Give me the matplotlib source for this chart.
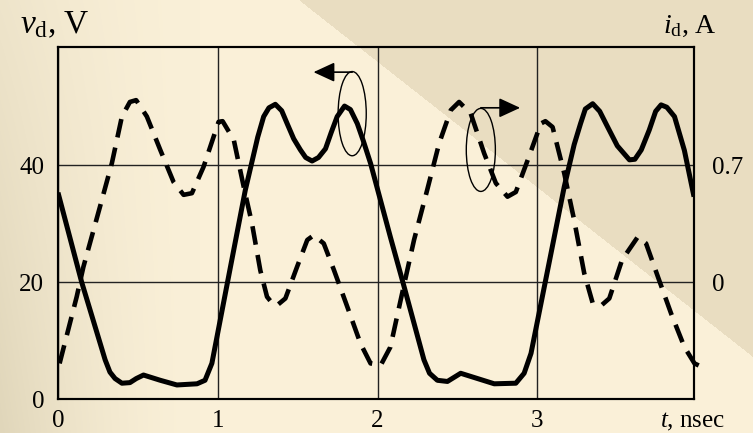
import numpy as np
import matplotlib
matplotlib.use("Agg")
import matplotlib.pyplot as plt
from matplotlib.patches import Ellipse

plt.rcParams['font.family'] = ['Liberation Serif', 'DejaVu Serif']
plt.rcParams['mathtext.fontset'] = 'custom'
plt.rcParams['mathtext.rm'] = 'Liberation Serif'
plt.rcParams['mathtext.it'] = 'Liberation Serif:italic'
plt.rcParams['lines.scale_dashes'] = False

# ---- data ----
# solid: diode voltage v_d (V), left axis
t_v = [0.0, 0.148, 0.295, 0.325, 0.357, 0.40, 0.45, 0.49, 0.535, 0.64, 0.744, 0.87, 0.92, 0.963,
       1.08, 1.172, 1.25, 1.287, 1.32, 1.36, 1.40, 1.434, 1.475, 1.517, 1.55, 1.59, 1.63, 1.674,
       1.71, 1.747, 1.793, 1.83, 1.873, 1.91, 1.956, 2.08, 2.155, 2.29, 2.325, 2.374, 2.437,
       2.52, 2.73, 2.865, 2.917, 2.96, 3.085, 3.168, 3.23, 3.27, 3.30, 3.346, 3.39, 3.44,
       3.50, 3.576, 3.61, 3.65, 3.70, 3.74, 3.774, 3.81, 3.858, 3.92, 3.98]
v_d = [35.3, 20.0, 6.7, 4.6, 3.5, 2.7, 2.8, 3.5, 4.1, 3.2, 2.4, 2.6, 3.2, 6.1,
       22.7, 35.7, 44.8, 48.3, 49.8, 50.4, 49.3, 47.1, 44.5, 42.6, 41.3, 40.7, 41.3, 42.8,
       45.6, 48.3, 50.1, 49.5, 47.1, 44.2, 40.3, 27.7, 20.3, 6.7, 4.4, 3.2, 3.0,
       4.4, 2.6, 2.7, 4.4, 7.8, 24.9, 36.3, 43.5, 47.1, 49.6, 50.5, 49.2, 46.5,
       43.3, 40.9, 41.0, 42.6, 46.0, 49.2, 50.3, 49.9, 48.3, 42.5, 34.6]

# dashed: diode current i_d (A), right axis
t_i = [0.01, 0.117, 0.159, 0.263, 0.337, 0.40, 0.45, 0.489, 0.556, 0.64, 0.723, 0.786,
       0.838, 0.911, 1.005, 1.03, 1.10, 1.162, 1.214, 1.266, 1.308, 1.34, 1.37, 1.423,
       1.496, 1.56, 1.60, 1.663, 1.726, 1.81, 1.893, 1.956, 2.02, 2.08, 2.144, 2.228,
       2.31, 2.385, 2.458, 2.51, 2.583, 2.667, 2.74, 2.813, 2.865, 2.94, 3.022, 3.05,
       3.095, 3.168, 3.23, 3.293, 3.346, 3.40, 3.45, 3.53, 3.628, 3.68, 3.754, 3.837,
       3.92, 3.983, 4.035]
i_d = [-0.487, -0.088, 0.091, 0.452, 0.711, 0.991, 1.078, 1.089, 0.991, 0.791, 0.599, 0.522,
       0.532, 0.690, 0.959, 0.963, 0.851, 0.571, 0.350, 0.070, -0.088, -0.126, -0.140, -0.098,
       0.091, 0.252, 0.280, 0.231, 0.074, -0.147, -0.368, -0.487, -0.497, -0.389, -0.109, 0.252,
       0.550, 0.830, 1.029, 1.078, 1.008, 0.770, 0.592, 0.511, 0.539, 0.732, 0.949, 0.963,
       0.928, 0.651, 0.371, 0.053, -0.126, -0.140, -0.098, 0.133, 0.270, 0.231, 0.032, -0.189,
       -0.389, -0.487, -0.511]

x_ticks = [0, 1, 2, 3]
x_labels = ['0', '1', '2', '3']
yl_ticks = [0, 20, 40]
yl_labels = ['0', '20', '40']
yr_ticks = [0, 0.7]
yr_labels = ['0', '0.7']

W, H = 753, 433
fig = plt.figure(figsize=(W / 100, H / 100), dpi=100)

# ---- background ----
bg = fig.add_axes([0, 0, 1, 1], zorder=-10)
xx, yy = np.meshgrid(np.arange(W), np.arange(H))
light = np.array([250, 240, 216]) / 255.0
edge = np.array([224, 214, 186]) / 255.0
tex = np.array([233, 221, 193]) / 255.0
w = np.clip(1 - xx / 200.0, 0, 1) ** 1.6 * (0.45 + 0.55 * yy / H)
img = light[None, None, :] * (1 - w[..., None]) + edge[None, None, :] * w[..., None]
mask = yy < (xx - 299) * 0.786
img[mask] = tex
bg.imshow(img, aspect='auto', extent=[0, W, H, 0])
bg.axis('off')

# ---- main axes ----
ax = fig.add_axes([58 / W, 1 - 399 / H, (694 - 58) / W, (399 - 47) / H])
ax.set_facecolor('none')
ax.set_xlim(0, 3.98)
ax.set_ylim(0, 60.2)
ax2 = ax.twinx()
ax2.set_ylim((0 - 20) * 0.035, (60.2 - 20) * 0.035)

ax.plot(t_v, v_d, color='black', lw=3.6, solid_joinstyle='round', solid_capstyle='butt', zorder=5)
ax2.plot(t_i, i_d, color='black', lw=3.3, dashes=(13.5, 7.5), dash_capstyle='butt',
         dash_joinstyle='round', clip_on=False, zorder=5)

ax.set_xticks(x_ticks)
ax.set_xticklabels(x_labels)
ax.set_yticks(yl_ticks)
ax.set_yticklabels(yl_labels)
ax2.set_yticks(yr_ticks)
ax2.set_yticklabels(yr_labels)

ax.grid(True, color='#222222', lw=1.0)
ax.set_axisbelow(True)
ax.tick_params(axis='both', length=0, labelsize=18)
ax.tick_params(axis='y', pad=10)
ax.tick_params(axis='x', pad=8)
ax2.tick_params(axis='y', length=0, labelsize=18, pad=13)
for a in (ax, ax2):
    for s in a.spines.values():
        s.set_linewidth(1.5)
        s.set_color('black')

# annotations: ellipses with arrows
ax.add_patch(Ellipse((1.841, 48.8), 0.176, 14.4, fill=False, lw=1.0, color='black', zorder=6))
ax.annotate('', xy=(1.599, 55.9), xytext=(1.841, 55.9),
            arrowprops=dict(arrowstyle='-|>,head_length=1.3,head_width=0.6',
                            mutation_scale=10, lw=1.2, color='black', shrinkA=0, shrinkB=0),
            zorder=6)
ax.add_patch(Ellipse((2.646, 42.6), 0.182, 14.2, fill=False, lw=1.0, color='black', zorder=6))
ax.annotate('', xy=(2.892, 49.8), xytext=(2.646, 49.8),
            arrowprops=dict(arrowstyle='-|>,head_length=1.3,head_width=0.6',
                            mutation_scale=10, lw=1.2, color='black', shrinkA=0, shrinkB=0),
            zorder=6)

# axis titles
fig.text(20 / W, 1 - 33 / H, r'$v_{\mathrm{d}}$, V', fontsize=24, ha='left', va='baseline')
fig.text(663 / W, 1 - 33 / H, r'$i_{\mathrm{d}}$, A', fontsize=20, ha='left', va='baseline')
fig.text(693 / W, 1 - 422 / H, r'$t$, nsec', fontsize=18, ha='center', va='center')

fig.savefig('out.png', dpi=100)
